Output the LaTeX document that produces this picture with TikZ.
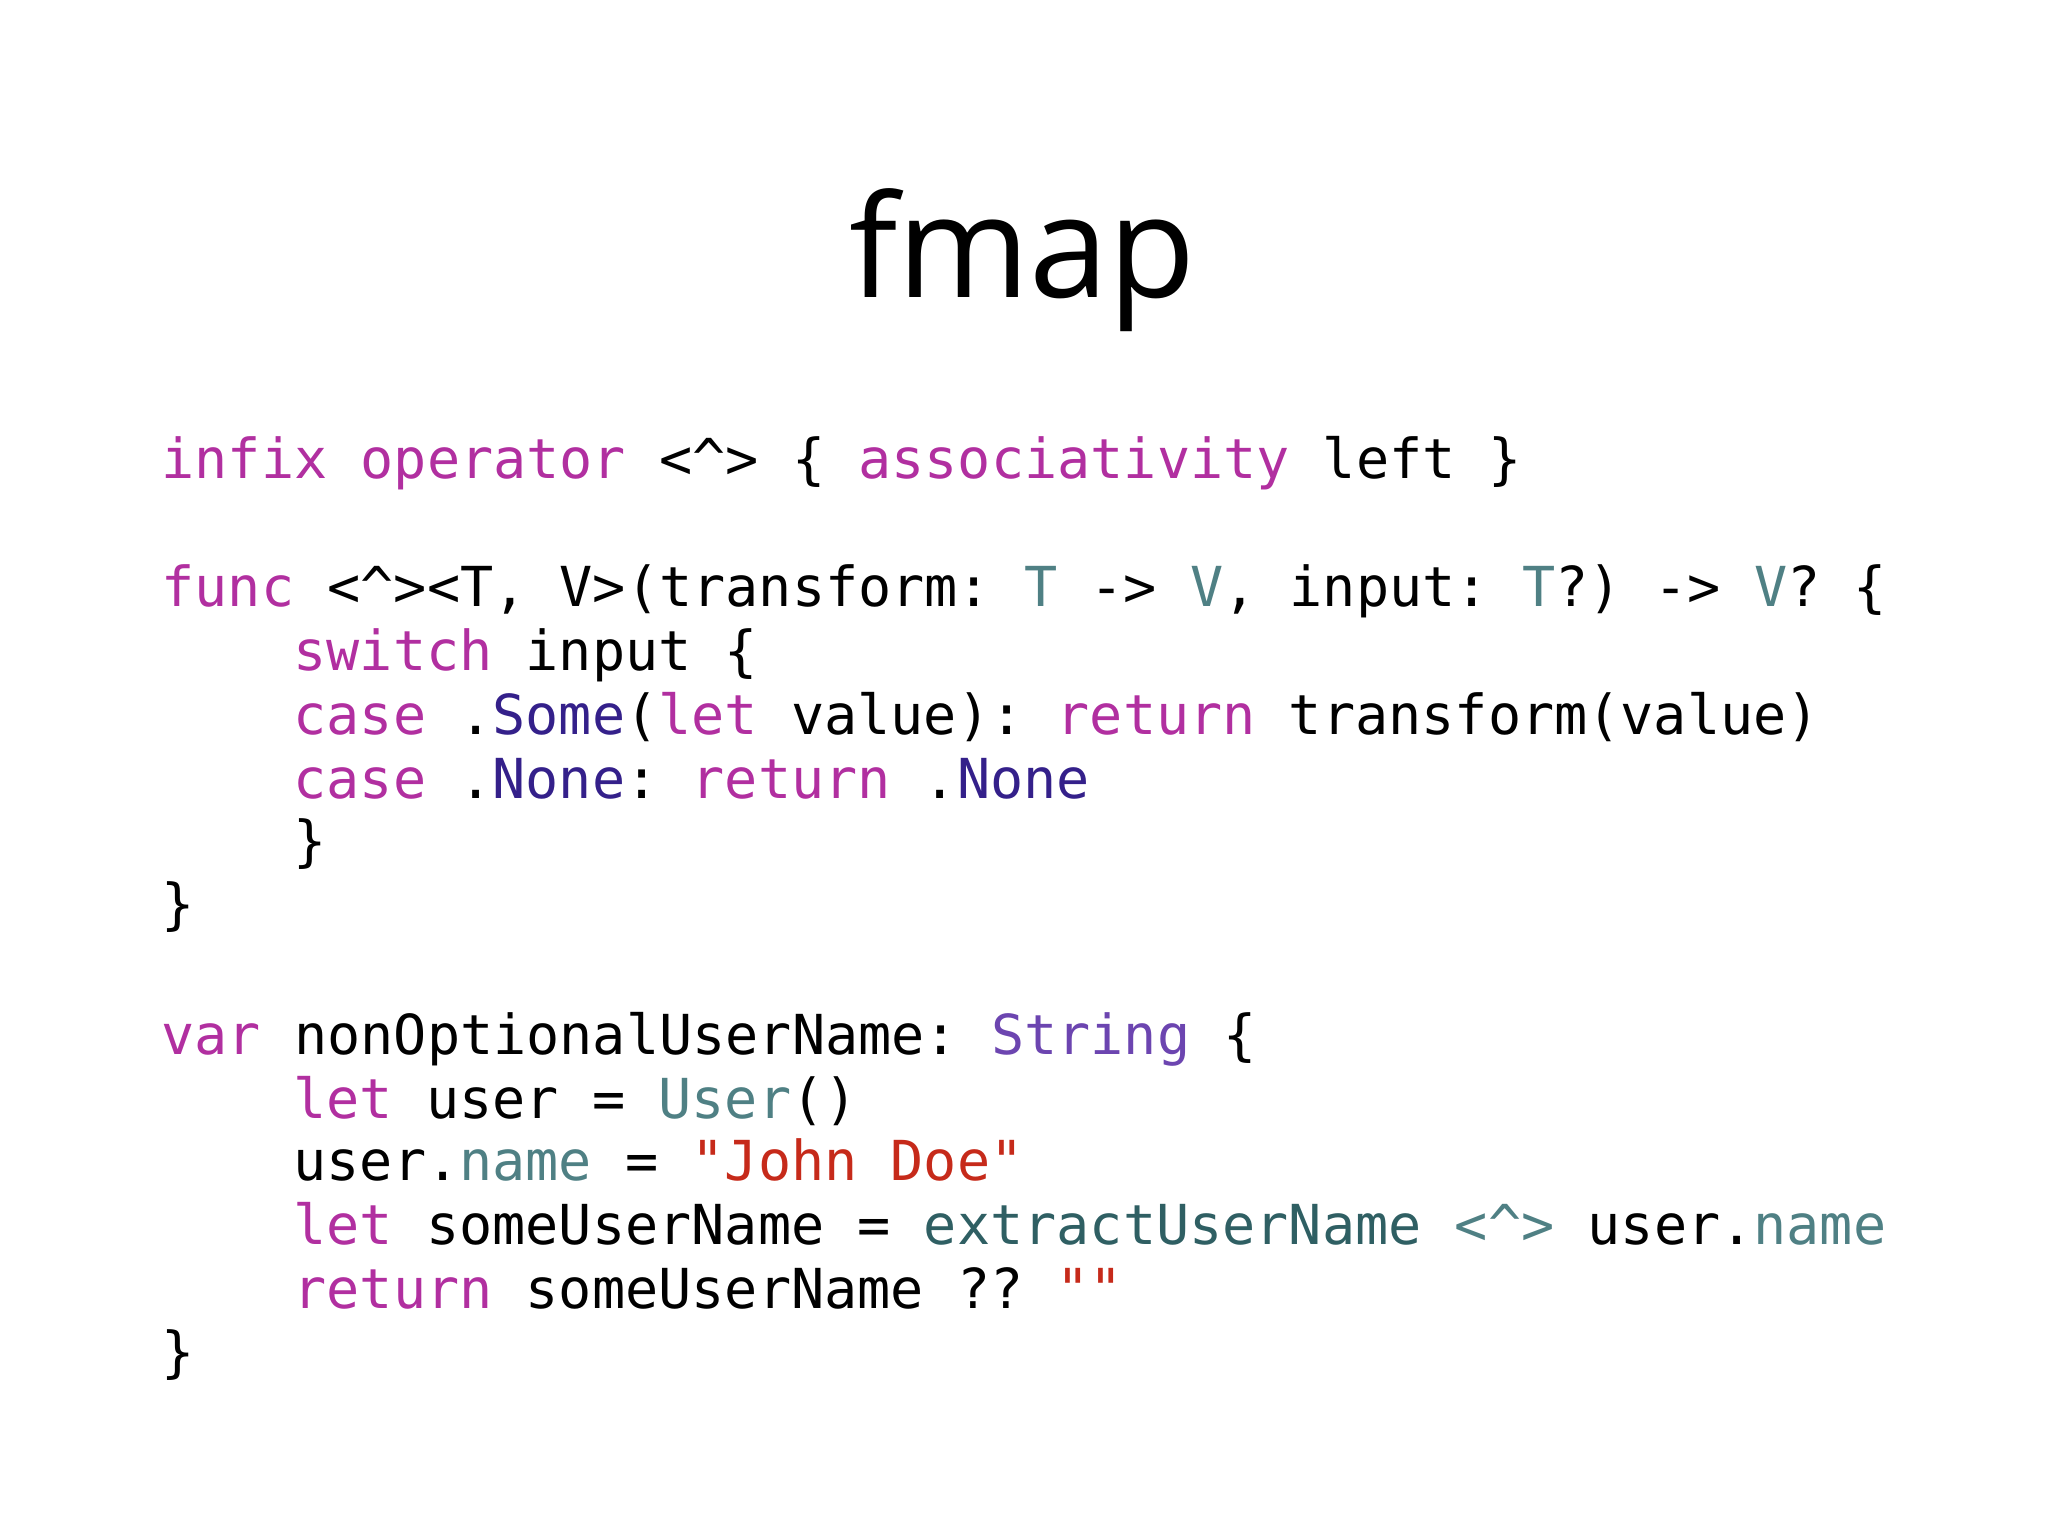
\documentclass[tikz,border=0pt]{standalone}
\usepackage{fontspec}
\setmainfont{Open Sans}
\newfontfamily\code{DejaVu Sans Mono}
\definecolor{kw}{HTML}{B12FA0}
\definecolor{ty}{HTML}{4F8084}
\definecolor{en}{HTML}{34208A}
\definecolor{st}{HTML}{6C45B0}
\definecolor{lit}{HTML}{C62A1A}
\definecolor{fn}{HTML}{2F5F63}
\newcommand{\K}[1]{\textcolor{kw}{#1}}
\newcommand{\Ty}[1]{\textcolor{ty}{#1}}
\newcommand{\E}[1]{\textcolor{en}{#1}}
\newcommand{\Ca}{\textasciicircum}
\frenchspacing
\begin{document}
\begin{tikzpicture}[x=0.01cm,y=-0.01cm,
  cl/.style={anchor=base west,inner sep=0pt,font=\code\frenchspacing\fontsize{12}{14}\selectfont,text=black}]
\useasboundingbox (0,0) rectangle (1568,1176);
\node[inner sep=0pt,anchor=base,font=\fontsize{31}{36}\selectfont] (title) at (783,228) {fmap};
\node[cl] (l1) at (123,366) {\K{infix operator} <\Ca> \{ \K{associativity} left \}};
\node[cl] (l2) at (123,464) {\K{func} <\Ca><T, V>(transform: \Ty{T} -> \Ty{V}, input: \Ty{T}?) -> \Ty{V}? \{};
\node[cl] (l3) at (224,513) {\K{switch} input \{};
\node[cl] (l4) at (224,562) {\K{case} .\E{Some}(\K{let} value): \K{return} transform(value)};
\node[cl] (l5) at (224,611) {\K{case} .\E{None}: \K{return} .\E{None}};
\node[cl] (l6) at (224,659) {\}};
\node[cl] (l7) at (123,707) {\}};
\node[cl] (l8) at (123,807) {\K{var} nonOptionalUserName: \textcolor{st}{String} \{};
\node[cl] (l9) at (224,856) {\K{let} user = \Ty{User}()};
\node[cl] (l10) at (224,904) {user.\Ty{name} = \textcolor{lit}{"John Doe"}};
\node[cl] (l11) at (224,953) {\K{let} someUserName = \textcolor{fn}{extractUserName} \Ty{<\Ca>} user.\Ty{name}};
\node[cl] (l12) at (224,1002) {\K{return} someUserName ?? \textcolor{lit}{""}};
\node[cl] (l13) at (123,1050) {\}};
\end{tikzpicture}
\end{document}
